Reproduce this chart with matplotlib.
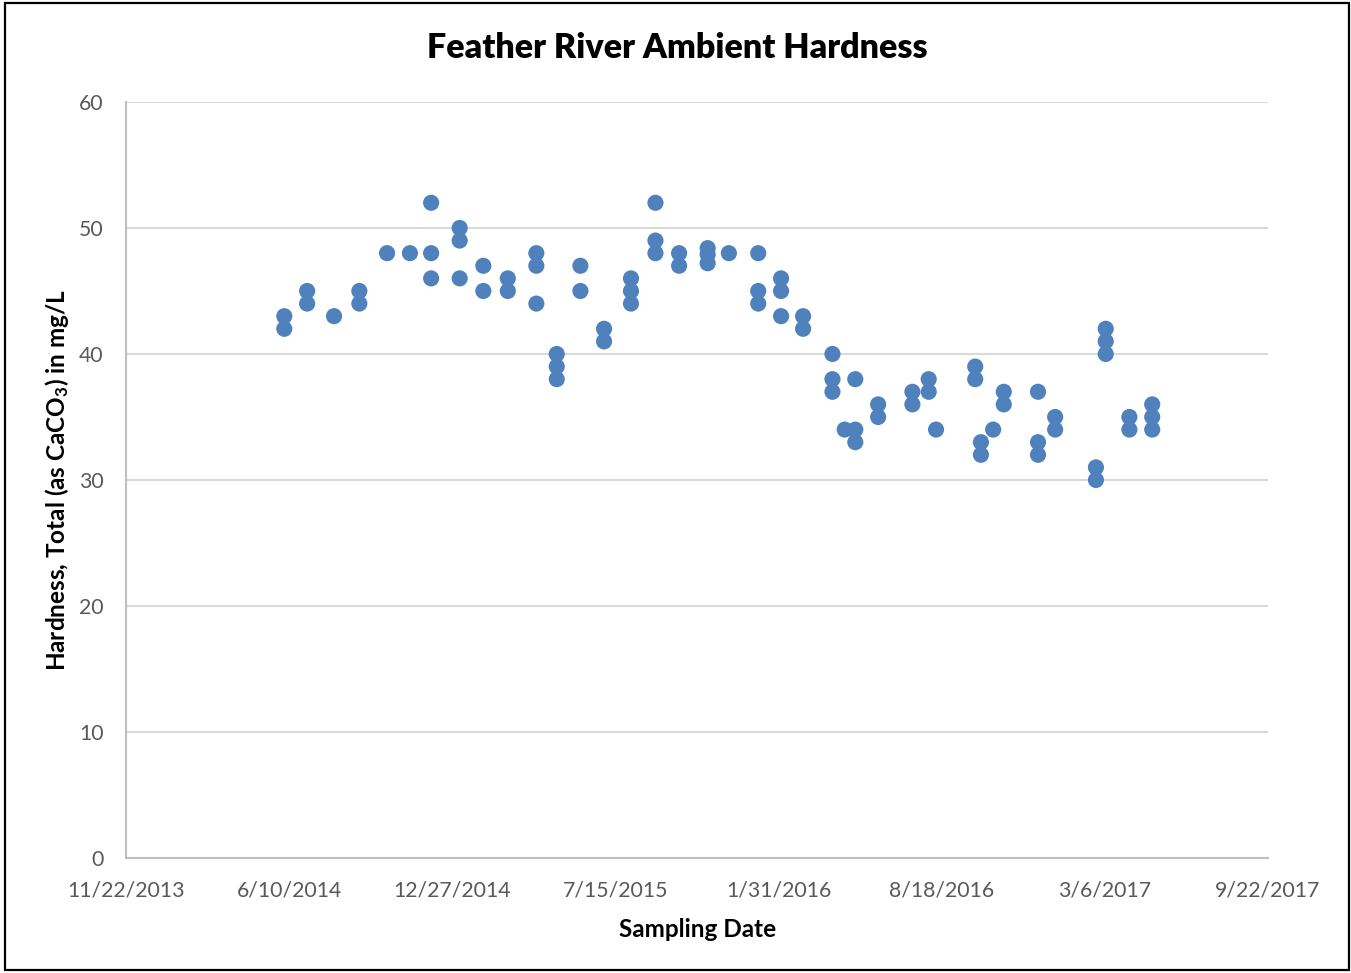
import pandas as pd
import matplotlib.pyplot as plt
from matplotlib.patches import Rectangle

# Sampling dates and the hardness results read on each date (mg/L as CaCO3)
sample_dates = ['2014-06-04', '2014-07-02', '2014-08-04', '2014-09-04', '2014-10-08',
                '2014-11-05', '2014-12-01', '2015-01-05', '2015-02-03', '2015-03-05',
                '2015-04-09', '2015-05-04', '2015-06-02', '2015-07-01', '2015-08-03',
                '2015-09-02', '2015-10-01', '2015-11-05', '2015-12-01', '2016-01-06',
                '2016-02-03', '2016-03-01', '2016-04-06', '2016-04-21', '2016-05-04',
                '2016-06-01', '2016-07-13', '2016-08-02', '2016-08-11', '2016-09-28',
                '2016-10-05', '2016-10-20', '2016-11-02', '2016-12-14', '2017-01-04',
                '2017-02-23', '2017-03-07', '2017-04-05', '2017-05-03']
hardness = [[43, 42], [45, 44], [43], [45, 44], [48],
            [48], [52, 48, 46], [50, 49, 46], [47, 45], [46, 45],
            [48, 47, 44], [40, 39, 38], [47, 45], [42, 41], [46, 45, 44],
            [52, 49, 48], [48, 47], [48.4, 47.9, 47.2], [48], [48, 45, 44],
            [46, 45, 43], [43, 42], [40, 38, 37], [34], [38, 34, 33],
            [36, 35], [37, 36], [38, 37], [34], [39, 38],
            [33, 32], [34], [37, 36], [37, 33, 32], [35, 34],
            [31, 30], [42, 41, 40], [35, 34], [36, 35, 34]]

x_start = '2013-11-22'
x_end = '2017-09-22'
y_ticks = [0, 10, 20, 30, 40, 50, 60]

# one row per measurement
rows = [(d, v) for d, vals in zip(sample_dates, hardness) for v in vals]
df = pd.DataFrame(rows, columns=['date', 'hardness'])
df['date'] = pd.to_datetime(df['date'])

plt.rcParams['font.family'] = ['Lato', 'DejaVu Sans']
plt.rcParams['mathtext.fontset'] = 'custom'
plt.rcParams['mathtext.rm'] = 'Lato:bold'
plt.rcParams['mathtext.it'] = 'Lato:bold'
plt.rcParams['mathtext.bf'] = 'Lato:bold'

fig = plt.figure(figsize=(13.51, 9.73), dpi=100)
ax = fig.add_axes([0.0933, 0.1182, 0.8453, 0.7770])

ax.scatter(df['date'], df['hardness'], s=135, color='#4F81BD', edgecolors='none', zorder=3)

# axis limits and ticks
tick_dates = pd.date_range(x_start, x_end, freq='200D')
ax.set_xlim(pd.Timestamp(x_start), pd.Timestamp(x_end))
ax.set_xticks(tick_dates)
ax.set_xticklabels([f'{d.month}/{d.day}/{d.year}' for d in tick_dates])
ax.set_ylim(0, 60)
ax.set_yticks(y_ticks)

ax.tick_params(axis='both', length=0, labelsize=15.3, labelcolor='#595959')
ax.tick_params(axis='x', pad=16.5)
ax.tick_params(axis='y', pad=16)

ax.grid(True, axis='y', color='#D9D9D9', linewidth=1.5, zorder=0)
ax.set_axisbelow(True)
for side in ['top', 'right']:
    ax.spines[side].set_visible(False)
for side in ['left', 'bottom']:
    ax.spines[side].set_color('#BFBFBF')
    ax.spines[side].set_linewidth(1.5)

# titles
fig.text(0.5015, 0.9507, 'Feather River Ambient Hardness', ha='center', va='center',
         fontsize=24.5, fontweight='heavy')
fig.text(0.516, 0.0452, 'Sampling Date', ha='center', va='center',
         fontsize=17.5, fontweight='bold')
fig.text(0.0422, 0.5067, r'Hardness, Total (as CaCO$_{3}$) in mg/L', ha='center', va='center',
         rotation=90, fontsize=17.5, fontweight='bold')

# frame around the whole chart
fig.patches.append(Rectangle((5 / 1351, 3 / 973), 1344 / 1351, 967 / 973,
                             transform=fig.transFigure, fill=False,
                             edgecolor='black', linewidth=1.6))

plt.savefig('out.png', dpi=100)
